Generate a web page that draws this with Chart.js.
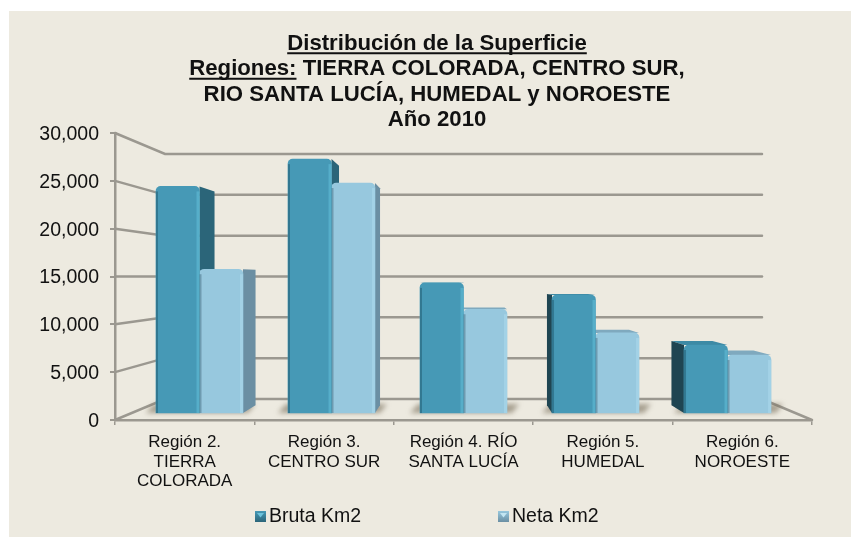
<!DOCTYPE html>
<html><head><meta charset="utf-8">
<style>html,body{margin:0;padding:0;background:#fff}canvas{display:block}</style>
<script src="https://cdn.jsdelivr.net/npm/chart.js@4"></script>
</head><body><canvas id="c" width="851" height="537"></canvas>
<script>
const categories=[["Región 2.","TIERRA","COLORADA"],["Región 3.","CENTRO SUR"],["Región 4. RÍO","SANTA LUCÍA"],["Región 5.","HUMEDAL"],["Región 6.","NOROESTE"]];
const categoryIndex=[0,1,2,3,4];
const bruta=[24900,27900,14300,12970,7470];
const neta=[15800,25270,11400,8800,6370];
const titleLines=["Distribución de la Superficie","Regiones: TIERRA COLORADA, CENTRO SUR,","RIO SANTA LUCÍA, HUMEDAL y NOROESTE","Año 2010"];
const yTicks=[0,5000,10000,15000,20000,25000,30000];
const FONT='"Liberation Sans", Arial, sans-serif';
const GRID='#9b9890', BG='#edeae0';
const VP={x:463.5,y:276.5}, BAR_DEPTH=0.943;
const looks=[
 {front:'#4699b6',side:'#2b6579',sideL:'#1f4552',top:'#3d8aa5',hi:'rgba(110,205,230,.4)',lo:'rgba(20,70,90,.4)',sw:'#6cc3dc'},
 {front:'#97c8de',side:'#6b8fa3',sideL:'#6b8fa3',top:'#7fa9be',hi:'rgba(200,240,255,.25)',lo:'rgba(70,110,130,.5)',sw:'#c4e6f2'}
];
function poly(ctx,pts,fill){ctx.beginPath();pts.forEach((p,i)=>i?ctx.lineTo(p[0],p[1]):ctx.moveTo(p[0],p[1]));ctx.closePath();ctx.fillStyle=fill;ctx.fill();}
function back(x,y){return [VP.x+(x-VP.x)*BAR_DEPTH,VP.y+(y-VP.y)*BAR_DEPTH];}
const scene={
 id:'scene',
 afterLayout(chart){chart.scales.y.left=9;},
 beforeDraw(chart){const c=chart.ctx;c.save();c.fillStyle='#fff';c.fillRect(0,0,851,537);c.fillStyle=BG;c.fillRect(9,11,842,526);c.restore();},
 beforeDatasetsDraw(chart){
  const c=chart.ctx,a=chart.chartArea,F=chart.scales.y,B=chart.scales.yBack;
  const backL=165,backR=762;
  c.save();c.strokeStyle=GRID;c.lineWidth=2.5;c.lineCap='round';
  yTicks.forEach(v=>{c.beginPath();c.moveTo(a.left,F.getPixelForValue(v));c.lineTo(backL,B.getPixelForValue(v));c.lineTo(backR,B.getPixelForValue(v));
    if(v===0)c.lineTo(a.right,F.getPixelForValue(0));c.stroke();});
  c.restore();
  const m0=chart.getDatasetMeta(0).data,m1=chart.getDatasetMeta(1).data;
  c.save();c.filter='blur(2.5px)';
  m0.forEach((e,i)=>{const n=m1[i],l=e.x-e.width/2,r=n.x+n.width/2,y=e.base,b=y-9;
    poly(c,[[l-10,y],[l-2,b],[r+12,b],[r+5,y]],'rgba(120,110,90,.6)');});
  c.restore();
  [m0,m1].forEach((m,ds)=>{const L=looks[ds];m.forEach(e=>{
    const l=e.x-e.width/2,r=e.x+e.width/2,t=e.y,b=e.base;
    const tl=back(l,t),tr=back(r,t),bl=back(l,b),br=back(r,b);
    if(t>VP.y)poly(c,[[l,t],[r,t],tr,tl],L.top);
    if(r<VP.x)poly(c,[[r,t],tr,br,[r,b]],L.side);
    if(l>VP.x)poly(c,[[l,t],tl,bl,[l,b]],L.sideL);
  });});
 },
 afterDatasetsDraw(chart){
  const c=chart.ctx;
  [0,1].forEach(ds=>{const L=looks[ds];chart.getDatasetMeta(ds).data.forEach(e=>{
    const l=e.x-e.width/2,r=e.x+e.width/2,t=e.y,b=e.base;
    c.fillStyle=L.lo;c.fillRect(l,t+5,2,b-t-5);
    c.fillStyle=L.hi;c.fillRect(r-3,t+5,3,b-t-5);
  });});
  const T=chart.titleBlock,cx=(T.left+T.right)/2,lh=25.5,top=T.top;
  c.save();c.font='bold 22.2px '+FONT;c.strokeStyle='#111';c.lineWidth=2;
  const w1=c.measureText(titleLines[0]).width,w2=c.measureText(titleLines[1]).width,wr=c.measureText('Regiones:').width;
  c.beginPath();c.moveTo(cx-w1/2,top+lh/2+9.5);c.lineTo(cx+w1/2,top+lh/2+9.5);
  const sx=cx-w2/2;c.moveTo(sx,top+lh*1.5+9.5);c.lineTo(sx+wr,top+lh*1.5+9.5);c.stroke();c.restore();
  const xs=[255,498];
  c.save();c.font='19.5px '+FONT;c.textBaseline='middle';c.textAlign='left';
  chart.data.datasets.forEach((d,i)=>{const x=xs[i],y=511,s=11,L=looks[i];
    const g=c.createLinearGradient(0,y,0,y+s);g.addColorStop(0,L.front);g.addColorStop(1,L.side);
    c.fillStyle=g;c.fillRect(x,y,s,s);
    poly(c,[[x+2,y+2],[x+s-2,y+2],[x+s/2,y+s/2+1]],L.sw);
    c.fillStyle='#111';c.fillText(d.label,x+14,516.5);});
  c.restore();
 }
};
const topRound={topLeft:5,topRight:5,bottomLeft:0,bottomRight:0};
new Chart(document.getElementById('c'),{
 type:'bar',
 data:{labels:categories,datasets:[
  {label:'Bruta Km2',data:categoryIndex.map(i=>({x:i,y:bruta[i]})),backgroundColor:looks[0].front,xAxisID:'xBars',yAxisID:'yBars',barThickness:43.5,borderRadius:topRound,borderSkipped:false},
  {label:'Neta Km2',data:categoryIndex.map(i=>({x:i,y:neta[i]})),backgroundColor:looks[1].front,xAxisID:'xBars',yAxisID:'yBars',barThickness:43.5,borderRadius:topRound,borderSkipped:false}
 ]},
 plugins:[scene],
 options:{
  responsive:false,animation:false,
  layout:{padding:{left:62,right:39,top:31,bottom:0}},
  plugins:{
   legend:{display:false},tooltip:{enabled:false},
   title:{display:true,text:titleLines,color:'#111',font:{family:FONT,size:22.2,weight:'bold',lineHeight:'25.5px'},padding:{top:0,bottom:0}}
  },
  scales:{
   x:{type:'category',position:'bottom',offset:true,
     grid:{offset:true,drawOnChartArea:false,color:GRID,lineWidth:1.5,tickLength:5},
     border:{color:GRID,width:2.5},
     ticks:{autoSkip:false,maxRotation:0,minRotation:0,color:'#111',padding:8,font:{family:FONT,size:17,lineHeight:'19.5px'}},
     afterFit(s){s.height=117;}},
   y:{type:'linear',position:'left',min:0,max:30000,
     grid:{drawOnChartArea:false,color:GRID,lineWidth:2,tickLength:5},
     border:{color:GRID,width:2.5},
     ticks:{stepSize:5000,color:'#111',padding:11,labelOffset:1.5,font:{family:FONT,size:19.5},callback:v=>v.toLocaleString('en-US')},
     afterFit(s){s.width=53;}},
   xBars:{type:'linear',axis:'x',position:'bottom',display:false,offset:false,min:-0.64,max:4.64},
   yBars:{type:'linear',axis:'y',position:'left',display:false,min:-769,max:30769},
   yBack:{type:'linear',axis:'y',position:'left',display:false,min:-2571,max:32571}
  }
 }
});
</script></body></html>
